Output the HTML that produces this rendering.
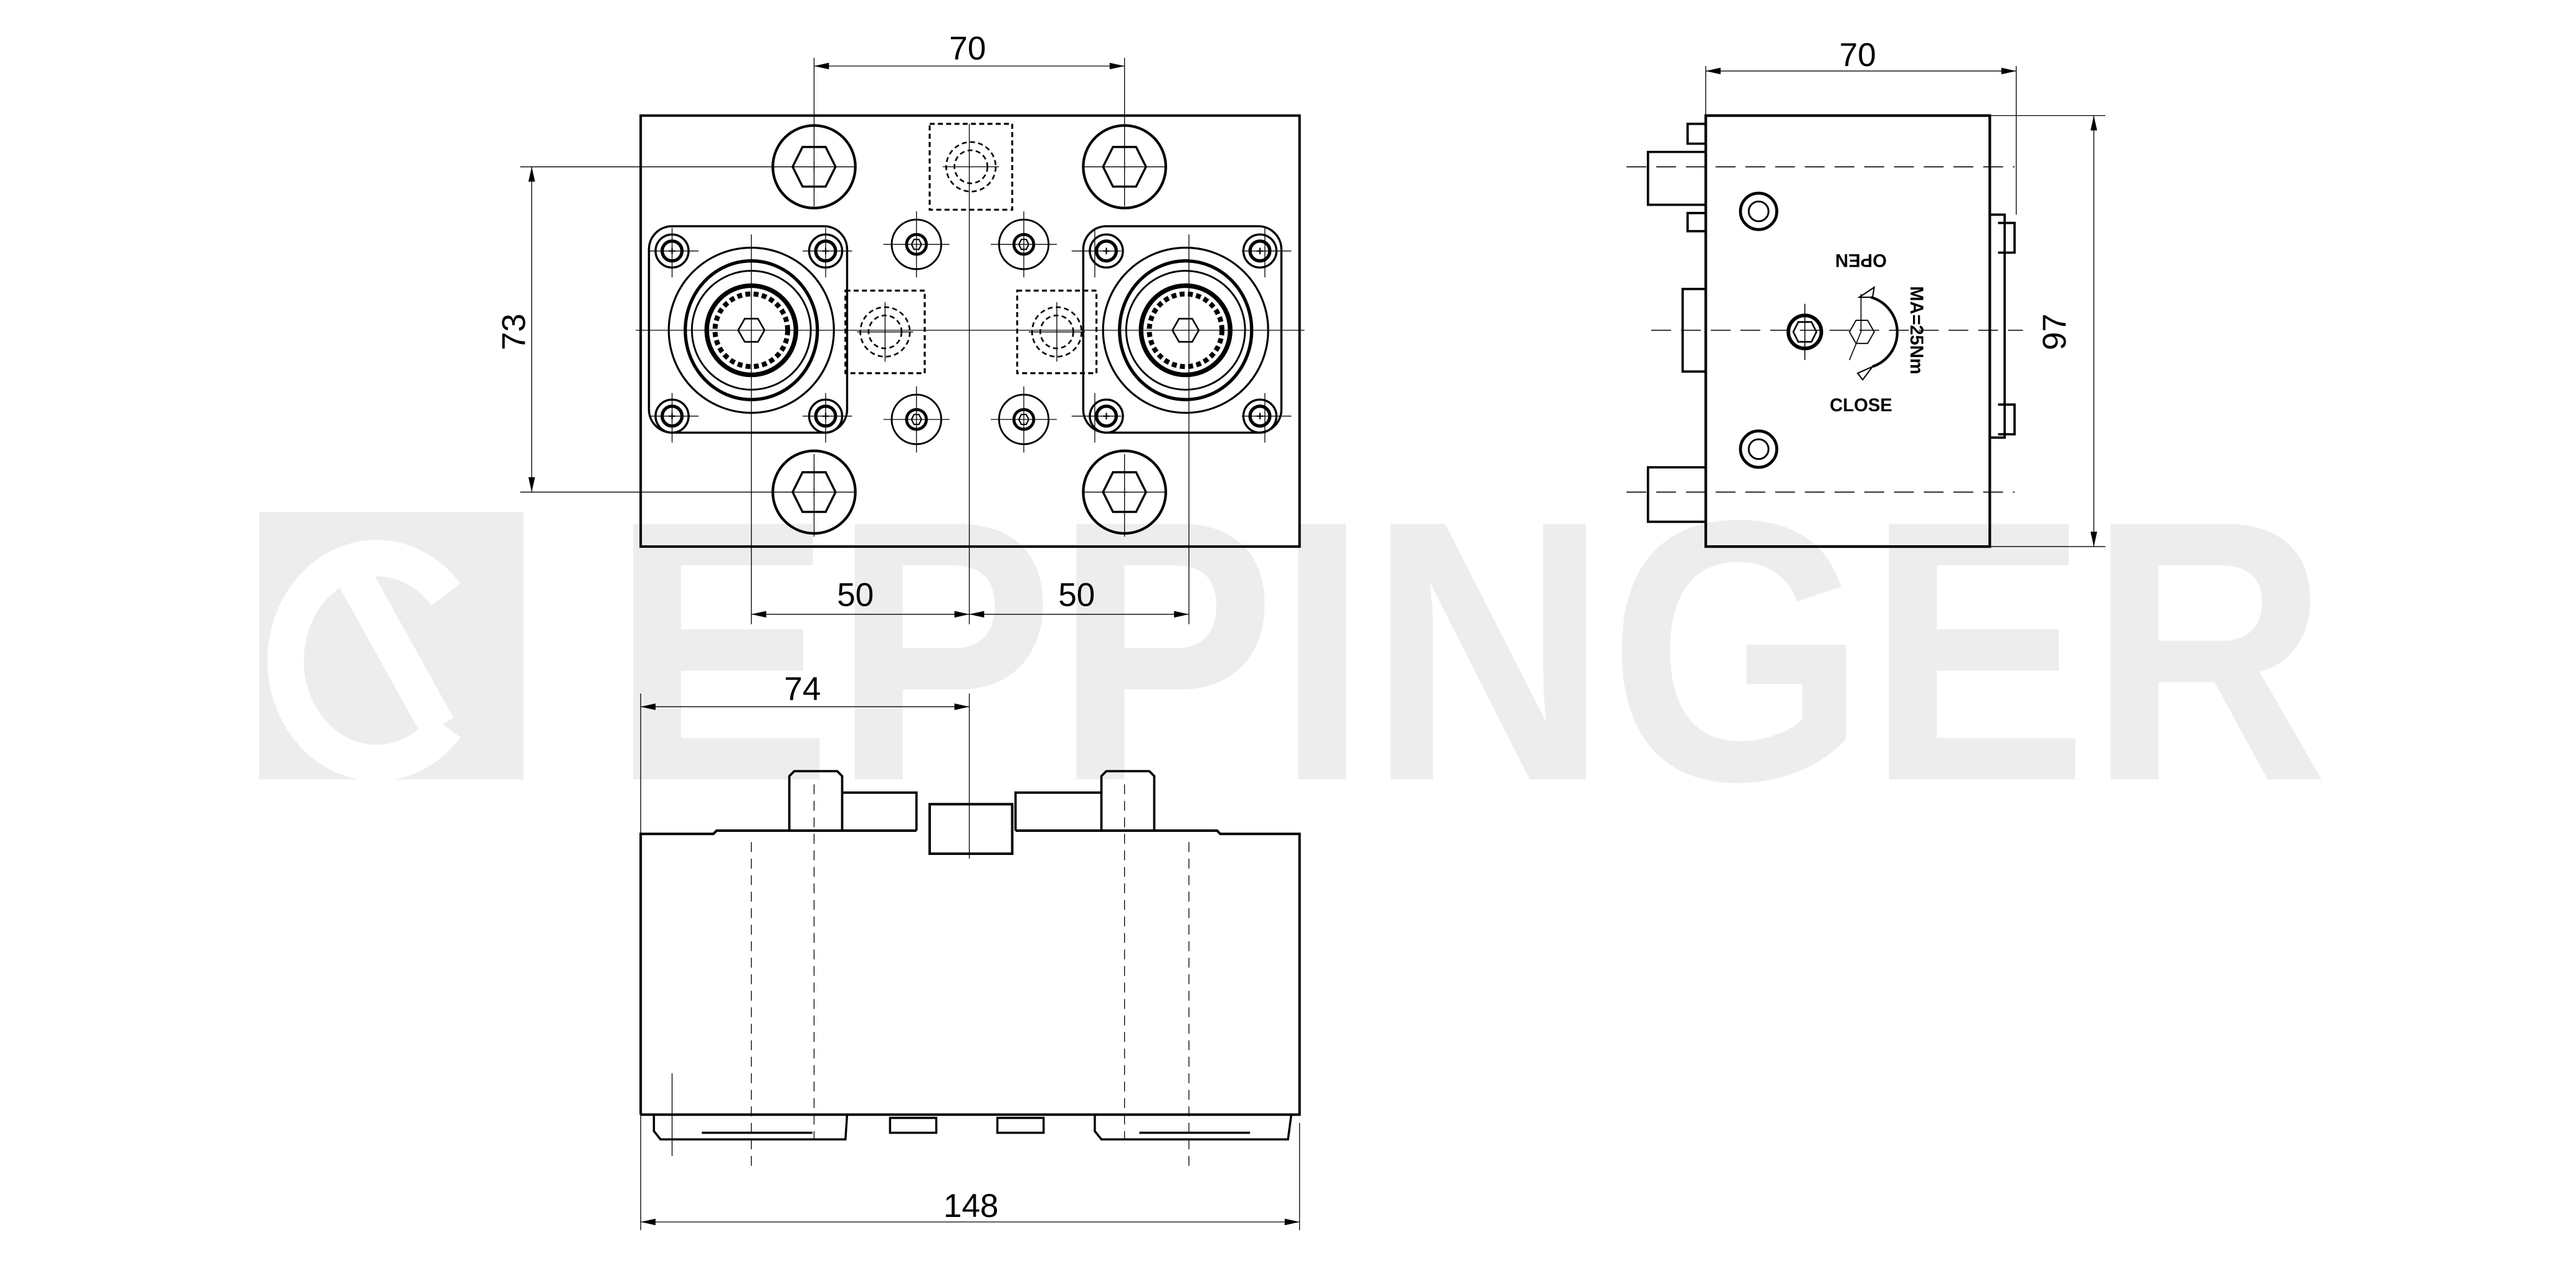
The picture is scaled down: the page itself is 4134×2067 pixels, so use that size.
<!DOCTYPE html>
<html><head><meta charset="utf-8"><style>html,body{margin:0;padding:0;background:#fff}svg{display:block}</style></head>
<body>
<svg width="4134" height="2067" viewBox="0 0 1560 780" preserveAspectRatio="none" xmlns="http://www.w3.org/2000/svg" font-family="Liberation Sans, sans-serif">
<defs>
<g id="bolt"><circle r="25" fill="none" stroke="#000" stroke-width="1.6"/><polygon points="-13,0 -7,-12 7,-12 13,0 7,12 -7,12" fill="none" stroke="#000" stroke-width="1.3"/><path d="M-3,0h6M0,-3v6" stroke="#000" stroke-width="0.5"/></g>
<g id="small"><circle r="15" fill="none" stroke="#000" stroke-width="1.1"/><circle r="6" fill="none" stroke="#000" stroke-width="1.8"/><polygon points="-3,0 -1.5,-3 1.5,-3 3,0 1.5,3 -1.5,3" fill="none" stroke="#000" stroke-width="0.8"/></g>
<g id="cs"><circle r="10" fill="none" stroke="#000" stroke-width="1.3"/><circle r="6" fill="none" stroke="#000" stroke-width="2"/><path d="M-2,0h4M0,-2v4" stroke="#000" stroke-width="0.8"/></g>
<g id="module">
<rect x="-62" y="-63" width="120" height="125" rx="14" fill="none" stroke="#000" stroke-width="1.3"/>
<circle r="50" fill="none" stroke="#000" stroke-width="1.2"/>
<ellipse rx="40" ry="42" fill="none" stroke="#000" stroke-width="2"/>
<circle r="36" fill="none" stroke="#000" stroke-width="1.1"/>
<circle r="27" fill="none" stroke="#000" stroke-width="2.8"/>
<circle r="22" fill="none" stroke="#000" stroke-width="3" stroke-dasharray="3 2"/>
<polygon points="-8,0 -4,-7 4,-7 8,0 4,7 -4,7" fill="none" stroke="#000" stroke-width="1"/>
<use href="#cs" x="-48" y="-48"/><use href="#cs" x="45" y="-48"/><use href="#cs" x="-48" y="52"/><use href="#cs" x="45" y="52"/>
</g>
<g id="dashbox"><rect x="-24" y="-25" width="48" height="50" fill="none" stroke="#000" stroke-width="1.2" stroke-dasharray="3 2"/><circle r="15" fill="none" stroke="#000" stroke-width="1" stroke-dasharray="3 2"/><circle r="10" fill="none" stroke="#000" stroke-width="1" stroke-dasharray="3 2"/><path d="M-17,0h34M0,-18v36" stroke="#000" stroke-width="0.5"/></g>
</defs>

<!-- watermark -->
<g fill="#ededed">
<rect x="157" y="310" width="160" height="162"/>
<text x="370" y="472" font-size="225" font-weight="bold" textLength="1040" lengthAdjust="spacingAndGlyphs">EPPINGER</text>
</g>
<g fill="none" stroke="#fff" stroke-width="22"><path d="M270,360 A55,62 0 1 0 270,440"/><path d="M215,350 L265,440"/></g>

<g stroke="#000" fill="none">
<!-- FRONT VIEW -->
<rect x="388" y="70" width="399" height="261" stroke-width="1.5"/>
<g stroke-width="0.5">
<path d="M493,35V125M681,35V125M587,75V378M455,142V378M720,142V378"/>
<path d="M315,101H470M315,298H470M385,200H790"/>
<path d="M468,101h50M656,101h50M468,298h50M656,298h50M493,275v50M681,275v50"/>
<path d="M535,148h40M555,128v40M600,148h40M620,128v40M535,254h40M555,234v40M600,254h40M620,234v40"/>
<path d="M393,152h30M407,138v30M486,152h30M500,138v30M393,252h30M407,238v30M486,252h30M500,238v30"/>
<path d="M649,152h30M663,138v30M752,152h30M766,138v30M649,252h30M663,238v30M752,252h30M766,238v30"/>
<path d="M493,40H681M322,101V298M455,372H720"/>
</g>
<g fill="#000" stroke="none">
<path d="M493,40l9,-2v4zM681,40l-9,-2v4zM322,101l-2,9h4zM322,298l-2,-9h4zM455,372l9,-2v4zM587,372l-9,-2v4zM587,372l9,-2v4zM720,372l-9,-2v4z"/>
</g>
<use href="#bolt" x="493" y="101"/><use href="#bolt" x="681" y="101"/><use href="#bolt" x="493" y="298"/><use href="#bolt" x="681" y="298"/>
<use href="#small" x="555" y="148"/><use href="#small" x="620" y="148"/><use href="#small" x="555" y="254"/><use href="#small" x="620" y="254"/>
<use href="#module" x="455" y="200"/><use href="#module" x="718" y="200"/>
<g transform="translate(588,101)"><rect x="-25" y="-26" width="50" height="52" stroke-width="1.2" stroke-dasharray="3 2"/><circle r="15" stroke-width="1" stroke-dasharray="3 2"/><circle r="10" stroke-width="1" stroke-dasharray="3 2"/><path d="M-17,0h34" stroke-width="0.5"/></g>
<use href="#dashbox" x="536" y="201"/><use href="#dashbox" x="640" y="201"/>

<!-- SIDE VIEW -->
<rect x="1033" y="70" width="172" height="261" stroke-width="1.6"/>
<path d="M1205,70H1275M1205,331H1275M1033,40V70M1221,40V130M1033,43H1221M1268,70V331" stroke-width="0.5"/>
<path d="M1033,43l9,-2v4zM1221,43l-9,-2v4zM1268,70l-2,9h4zM1268,331l-2,-9h4z" fill="#000" stroke="none"/>
<g stroke-width="1.4">
<path d="M1033,92H998V124H1033M1033,87H1022V75H1033M1033,129H1022V140H1033"/>
<path d="M1033,283H998V316H1033"/>
<path d="M1033,175H1019V225H1033"/>
<path d="M1205,130H1214V265H1205M1210,135h10v18h-10M1210,245h10v18h-10"/>
</g>
<path d="M985,101H1220M985,298H1220M1000,200H1225" stroke-width="0.6" stroke-dasharray="12 6"/>
<circle cx="1065" cy="128" r="11" stroke-width="1.8"/><circle cx="1065" cy="128" r="6" stroke-width="1.1"/>
<circle cx="1065" cy="272" r="11" stroke-width="1.8"/><circle cx="1065" cy="272" r="6" stroke-width="1.1"/>
<circle cx="1093" cy="201" r="10" stroke-width="2.2"/>
<polygon points="1086,201 1089,195 1097,195 1100,201 1097,207 1089,207" stroke-width="1"/>
<path d="M1093,184V218" stroke-width="0.6"/>
<polygon points="1120,201 1124,194 1131,194 1135,201 1131,208 1124,208" stroke-width="0.7"/>
<path d="M1133,180 A22,22 0 0 1 1134,222" stroke-width="1.6"/>
<path d="M1126,180l9,-6l-1,6zM1134,222l-9,4l3,4z" stroke-width="0.8"/>
<path d="M1127,178V201L1120,218" stroke-width="0.6"/>

<!-- BOTTOM VIEW -->
<path d="M388,675V505H432L434,503H555" stroke-width="1.5"/>
<path d="M615,503H737L739,505H787V675H388" stroke-width="1.5"/>
<path d="M478,503V470L481,467H507L510,470V503M667,503V470L670,467H696L699,470V503" stroke-width="1.4"/>
<path d="M510,480H555V503M615,503V480H667" stroke-width="1.4"/>
<rect x="563" y="487" width="50" height="30" stroke-width="1.5"/>
<path d="M455,510V710M720,510V710M493,475V690M681,475V690" stroke-width="0.5" stroke-dasharray="6 4"/>
<path d="M587,420V520M388,420V745M787,680V745M407,650V700M388,428H587M388,740H787" stroke-width="0.5"/>
<path d="M388,428l9,-2v4zM587,428l-9,-2v4zM388,740l9,-2v4zM787,740l-9,-2v4z" fill="#000" stroke="none"/>
<g stroke-width="1.3">
<path d="M396,675V685L400,690H512L513,675M425,686H492M663,675V685L667,690H780L782,675M690,686H757"/>
<rect x="539" y="677" width="28" height="9"/><rect x="604" y="677" width="28" height="9"/>
</g>
</g>

<!-- dimension text -->
<g fill="#000" font-size="20">
<text x="586" y="36" text-anchor="middle">70</text>
<text x="1125" y="40" text-anchor="middle">70</text>
<text x="518" y="367" text-anchor="middle">50</text>
<text x="652" y="367" text-anchor="middle">50</text>
<text x="486" y="424" text-anchor="middle">74</text>
<text x="588" y="737" text-anchor="middle">148</text>
<text transform="translate(318,201) rotate(-90)" text-anchor="middle">73</text>
<text transform="translate(1251,201) rotate(-90)" text-anchor="middle">97</text>
</g>
<g fill="#000" font-size="11" font-weight="bold">
<text transform="translate(1127,154) rotate(180)" text-anchor="middle">OPEN</text>
<text x="1127" y="249" text-anchor="middle">CLOSE</text>
<text transform="translate(1157,200) rotate(90)" text-anchor="middle">MA=25Nm</text>
</g>
</svg>
</body></html>
